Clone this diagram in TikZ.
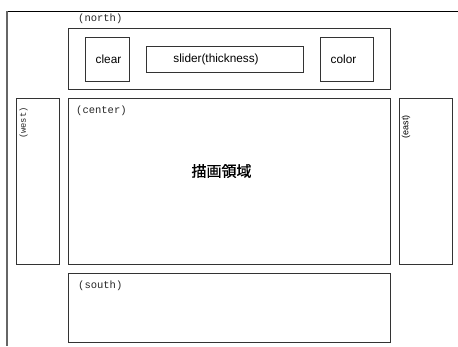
\documentclass[tikz,border=0pt]{standalone}
\usepackage{fontspec}
\setmainfont{Liberation Sans}
\newfontfamily\monof{Liberation Mono}
\newfontfamily\cjk[FakeBold=0.7]{Noto Sans CJK JP}
\begin{document}
\begin{tikzpicture}[x=1pt,y=-1pt,
  box/.style={draw=black!80,line width=0.9pt},
  lbl/.style={font=\monof\fontsize{10.5}{12}\selectfont,inner sep=0pt,text=black!85},
  btn/.style={font=\fontsize{11.8}{13}\selectfont,inner sep=0pt}]
\useasboundingbox (0,0) rectangle (458,346);
% outer frame
\coordinate (ftl) at (7,11);
\coordinate (ftr) at (458,11);
\coordinate (fbl) at (7,346);
\draw[black,line width=1pt] (ftl) -- (ftr);
\draw[black!60,line width=1.6pt] (ftl) -- (fbl);
% regions
\draw[box] (68,28) rectangle (390,89);
\draw[box] (16,98) rectangle (59,264);
\draw[box] (68,98) rectangle (390,264);
\draw[box] (399,98) rectangle (452,264);
\draw[box] (68,273) rectangle (390,342);
% buttons
\draw[box] (85,37) rectangle (129,81);
\node[btn] (clear) at (108.5,59.5) {clear};
\draw[box] (146,46) rectangle (303,72);
\node[btn] (slider) at (216,59.5) {slider(thickness)};
\draw[box] (320,37) rectangle (373,81);
\node[btn] (color) at (343.5,59.5) {color};
% labels
\node[lbl,anchor=west] (ln) at (78,19) {(north)};
\node[lbl,anchor=west] (lc) at (76,111) {(center)};
\node[lbl,anchor=west] (ls) at (78,286) {(south)};
\node[font=\monof\fontsize{8.8}{10}\selectfont,inner sep=0pt,text=black!85,rotate=90,anchor=east] (lw) at (23.5,107) {(west)};
\node[font=\fontsize{9}{10}\selectfont,inner sep=0pt,rotate=90,anchor=east] (le) at (406,115) {(east)};
\node[font=\cjk\fontsize{15}{17}\selectfont,inner sep=0pt] (draw) at (221.5,171) {描画領域};
\end{tikzpicture}
\end{document}
